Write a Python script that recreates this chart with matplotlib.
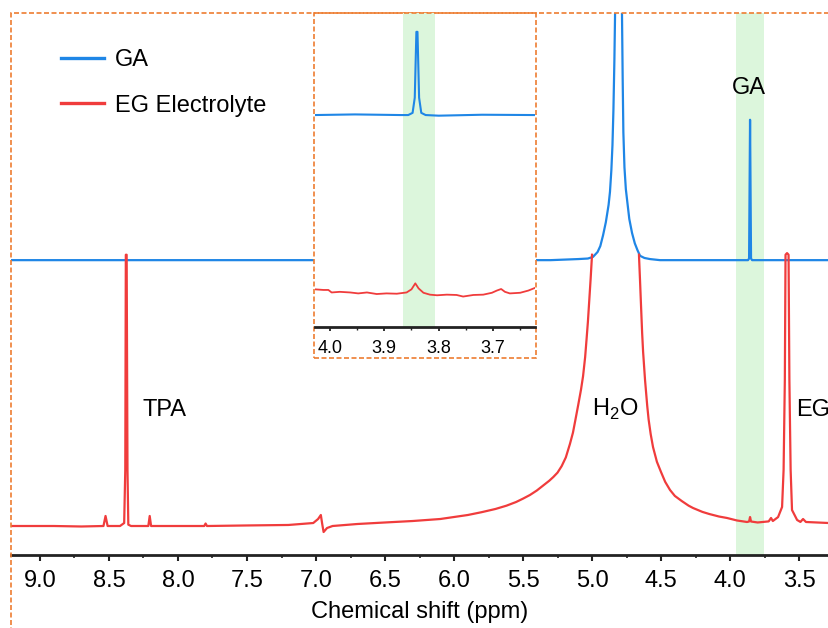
import numpy as np
import matplotlib
matplotlib.use('Agg')
import matplotlib.pyplot as plt
from matplotlib.patches import Rectangle
from matplotlib.ticker import MultipleLocator, FormatStrFormatter

plt.rcParams['font.family'] = ['Liberation Sans', 'DejaVu Sans']
plt.rcParams['mathtext.fontset'] = 'custom'
plt.rcParams['mathtext.rm'] = 'Liberation Sans'

# ---- data (ppm, intensity 0-100 of the axes height) ----
ga_ppm = [9.21, 5.30, 5.10, 5.03, 4.993, 4.96, 4.94, 4.92, 4.90, 4.88, 4.87,
          4.86, 4.852, 4.845, 4.838, 4.833, 4.808, 4.783, 4.778, 4.773, 4.765,
          4.755, 4.746, 4.73, 4.71, 4.69, 4.67, 4.652, 4.62, 4.58, 4.507,
          3.87, 3.862, 3.855, 3.848, 3.84, 3.283]
ga_int = [54.4, 54.4, 54.6, 54.7, 55.0, 55.9, 57.0, 59.0, 61.4, 64.6, 67.0,
          71.0, 75.6, 82.1, 91.3, 100.0, 140.0, 100.0, 88.0, 78.0, 71.5,
          67.5, 65.5, 62.0, 59.4, 57.5, 56.2, 55.2, 54.8, 54.6, 54.4,
          54.4, 54.7, 80.3, 54.7, 54.4, 54.4]

eg_ppm = [9.21, 8.90, 8.70, 8.54, 8.525, 8.51, 8.42, 8.39, 8.382, 8.378, 8.372,
          8.366, 8.36, 8.34, 8.215, 8.205, 8.195, 8.00, 7.81, 7.80, 7.79, 7.50,
          7.20, 7.02, 6.985, 6.965, 6.955, 6.945, 6.92, 6.88, 6.70, 6.50, 6.30,
          6.10, 5.90, 5.80, 5.70, 5.62, 5.55, 5.50, 5.45, 5.40, 5.35, 5.31,
          5.28, 5.25, 5.22, 5.19, 5.16, 5.138, 5.12, 5.10, 5.08, 5.065, 5.05,
          5.04, 5.03, 5.02, 5.01, 5.00, np.nan,
          4.66, 4.652, 4.645, 4.637, 4.63, 4.616, 4.60, 4.59, 4.575, 4.558,
          4.53, 4.50, 4.47, 4.435, 4.40, 4.35, 4.30, 4.268, 4.20, 4.15, 4.08,
          4.022, 3.95, 3.877, 3.862, 3.855, 3.848, 3.80, 3.72, 3.703, 3.69,
          3.652, 3.623, 3.612, 3.603, 3.598, 3.587, 3.576, 3.570, 3.561, 3.551,
          3.514, 3.49, 3.471, 3.45, 3.283]
eg_int = [5.35, 5.35, 5.26, 5.35, 7.20, 5.35, 5.35, 5.9, 15.7, 55.4, 55.4,
          15.7, 5.6, 5.35, 5.35, 7.20, 5.35, 5.35, 5.35, 5.81, 5.35, 5.45,
          5.54, 5.90, 6.64, 7.38, 5.72, 4.24, 4.98, 5.35, 5.72, 6.0, 6.27,
          6.64, 7.38, 7.9, 8.49, 9.1, 9.78, 10.4, 11.07, 11.9, 12.9, 13.7,
          14.4, 15.2, 16.4, 18.0, 20.5, 22.6, 25.0, 27.7, 30.5, 33.0, 36.5,
          39.7, 43.0, 47.0, 51.0, 55.4, np.nan,
          55.4, 50.5, 46.0, 41.0, 37.5, 32.3, 27.5, 25.0, 22.3, 19.9,
          17.2, 15.3, 13.5, 12.0, 10.9, 9.96, 9.1, 8.67, 7.95, 7.56, 7.1,
          6.83, 6.37, 6.09, 6.18, 7.01, 6.18, 6.0, 6.2, 6.83, 6.27,
          7.0, 8.86, 15.7, 32.3, 55.4, 55.7, 55.4, 32.3, 15.7, 8.30,
          6.46, 6.1, 6.64, 6.09, 5.90]

# inset (zoom 4.03-3.62 ppm)
ga_in_ppm = [4.028, 3.954, 3.87, 3.856, 3.848, 3.844, 3.841, 3.839, 3.836,
             3.832, 3.824, 3.80, 3.72, 3.6227]
ga_in_int = [67.5, 67.7, 67.5, 67.5, 68.2, 73.0, 94.0, 94.0, 73.0,
             68.2, 67.5, 67.3, 67.6, 67.5]

eg_in_ppm = [4.028, 4.012, 4.003, 3.997, 3.982, 3.963, 3.948, 3.932, 3.914,
             3.896, 3.877, 3.859, 3.850, 3.843, 3.837, 3.828, 3.816, 3.803,
             3.785, 3.767, 3.755, 3.736, 3.718, 3.702, 3.693, 3.685, 3.678,
             3.669, 3.650, 3.635, 3.622]
eg_in_int = [12.0, 11.8, 11.8, 11.0, 11.2, 11.0, 10.7, 11.0, 10.5,
             10.7, 10.6, 11.0, 12.0, 13.9, 12.3, 10.9, 10.3, 10.1,
             10.3, 10.2, 9.7, 10.2, 10.3, 10.9, 11.6, 12.1, 11.2,
             10.7, 10.9, 11.6, 12.5]

band_main = (3.957, 3.754)
band_inset = (3.866, 3.807)

blue = '#1f86e6'
red = '#f03c3c'
green = '#dcf6dc'
orange = '#ed7d31'

fig = plt.figure(figsize=(8.29, 6.28), dpi=100)
W, H = 829, 628

ax = fig.add_axes([11 / W, 1 - 555 / H, 1 - 11 / W, (555 - 13) / H])
ax.axvspan(*band_main, color=green, lw=0, zorder=0)
ax.plot(ga_ppm, ga_int, color=blue, lw=1.6, label='GA')
ax.plot(eg_ppm, eg_int, color=red, lw=1.6, label='EG Electrolyte')
ax.set_xlim(9.21, 3.283)
ax.set_ylim(0, 100)
for s in ['left', 'right', 'top']:
    ax.spines[s].set_visible(False)
ax.spines['bottom'].set_linewidth(2)
ax.spines['bottom'].set_color('#222222')
ax.set_yticks([])
ax.xaxis.set_major_locator(MultipleLocator(0.5))
ax.xaxis.set_minor_locator(MultipleLocator(0.25))
ax.xaxis.set_major_formatter(FormatStrFormatter('%.1f'))
ax.tick_params(axis='x', which='major', direction='out', length=4, width=1.5,
               labelsize=17, pad=7, color='#222222')
ax.tick_params(axis='x', which='minor', direction='out', length=2, width=1.2,
               color='#222222')
ax.set_xlabel('Chemical shift (ppm)', fontsize=17, labelpad=6)

ax.text(8.26, 26.8, 'TPA', fontsize=17, ha='left', va='center')
ax.text(5.0, 26.8, r'H$_\mathregular{2}$O', fontsize=17, ha='left', va='center')
ax.text(3.522, 26.8, 'EG', fontsize=17, ha='left', va='center')
ax.text(3.862, 86.2, 'GA', fontsize=17, ha='center', va='center')

leg = ax.legend(loc='upper left', bbox_to_anchor=(61 / W, 1 - 49 / H),
                bbox_transform=fig.transFigure, frameon=False, fontsize=17,
                handlelength=1.8, handletextpad=0.5, labelspacing=1.0,
                borderpad=0, borderaxespad=0)
for ln in leg.get_lines():
    ln.set_linewidth(2.4)

# outer dashed frame
fig.add_artist(Rectangle((11 / W, -0.1), 1.2, 1.1 - 13 / H, transform=fig.transFigure,
                         fill=False, ec=orange, lw=1.2, ls=(0, (3, 1.5)), zorder=3))
# inset frame (white)
fig.add_artist(Rectangle((314 / W, 1 - 358 / H), 222 / W, 345 / H,
                         transform=fig.transFigure, fc='white', ec=orange, lw=1.2,
                         ls=(0, (3, 1.5)), zorder=1.5))

axi = fig.add_axes([315 / W, 1 - 327 / H, 220 / W, (327 - 13) / H], zorder=2)
axi.axvspan(*band_inset, color=green, lw=0, zorder=0)
axi.plot(ga_in_ppm, ga_in_int, color=blue, lw=1.5)
axi.plot(eg_in_ppm, eg_in_int, color=red, lw=1.3)
axi.set_xlim(4.0276, 3.6227)
axi.set_ylim(0, 100)
axi.patch.set_alpha(0)
for s in ['left', 'right', 'top']:
    axi.spines[s].set_visible(False)
axi.spines['bottom'].set_linewidth(2)
axi.spines['bottom'].set_color('#222222')
axi.set_yticks([])
axi.xaxis.set_major_locator(MultipleLocator(0.1))
axi.xaxis.set_minor_locator(MultipleLocator(0.05))
axi.xaxis.set_major_formatter(FormatStrFormatter('%.1f'))
axi.tick_params(axis='x', which='major', direction='out', length=3, width=1.3,
                labelsize=13, pad=6, color='#222222')
axi.tick_params(axis='x', which='minor', direction='out', length=2, width=1.0,
                color='#222222')

fig.savefig('out.png', dpi=100)
